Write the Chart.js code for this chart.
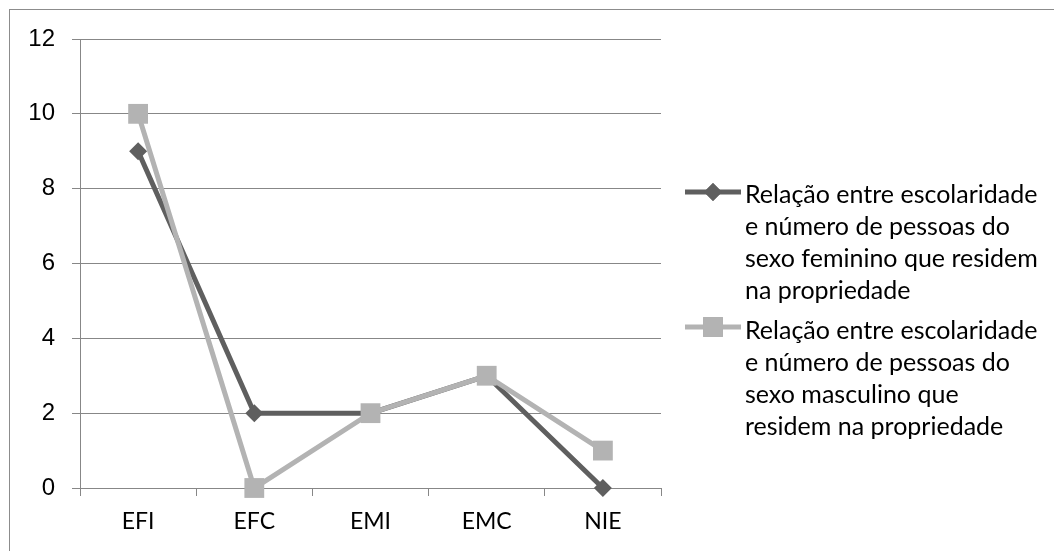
<!DOCTYPE html>
<html>
<head>
<meta charset="utf-8">
<script src="https://cdn.jsdelivr.net/npm/chart.js@4.4.1/dist/chart.umd.min.js"></script>
<style>
  html, body { margin: 0; padding: 0; background: #ffffff; }
  #wrap { width: 1054px; height: 551px; position: relative; }
</style>
</head>
<body>
<div id="wrap"><canvas id="chart" width="1054" height="551"></canvas></div>
<script>
// Escolaridade categories
const categories = ['EFI', 'EFC', 'EMI', 'EMC', 'NIE'];
// Number of residents per schooling level
const femaleValues = [9, 2, 2, 3, 0];
const maleValues = [10, 0, 2, 3, 1];
// Value axis ticks
const yTicks = [0, 2, 4, 6, 8, 10, 12];

const femaleLabel = ['Relação entre escolaridade', 'e número de pessoas do', 'sexo feminino que residem', 'na propriedade'];
const maleLabel = ['Relação entre escolaridade', 'e número de pessoas do', 'sexo masculino que', 'residem na propriedade'];

const DARK = '#5f5f5f';
const LIGHT = '#b3b3b3';
const AXIS = '#878787';

// Frame and multi-line legend drawn on the canvas
const sideLegend = {
  id: 'sideLegend',
  afterDraw(chart) {
    const ctx = chart.ctx;
    ctx.save();
    ctx.strokeStyle = '#8c8c8c';
    ctx.lineWidth = 1;
    ctx.strokeRect(9.5, 9.5, 1200, 800);

    const items = [
      { lines: femaleLabel, color: DARK, style: 'rectRot', radius: 9, y: 192, textY: 195 },
      { lines: maleLabel, color: LIGHT, style: 'rect', radius: 14, y: 327, textY: 331 }
    ];
    ctx.font = '25px Lato';
    ctx.textBaseline = 'middle';
    ctx.textAlign = 'left';
    items.forEach(it => {
      ctx.strokeStyle = it.color;
      ctx.lineWidth = 5;
      ctx.lineCap = 'butt';
      ctx.beginPath();
      ctx.moveTo(685, it.y);
      ctx.lineTo(741, it.y);
      ctx.stroke();
      ctx.fillStyle = it.color;
      Chart.helpers.drawPoint(ctx, { pointStyle: it.style, radius: it.radius, borderWidth: 0, rotation: 0 }, 713, it.y);
      ctx.fill();
      ctx.fillStyle = '#000000';
      it.lines.forEach((t, i) => {
        ctx.fillText(t, 745, it.textY + i * 32);
      });
    });
    ctx.restore();
  }
};

new Chart(document.getElementById('chart'), {
  type: 'line',
  data: {
    labels: categories,
    datasets: [
      {
        label: femaleLabel.join(' '),
        data: femaleValues,
        borderColor: DARK,
        backgroundColor: DARK,
        borderWidth: 5,
        pointStyle: 'rectRot',
        pointRadius: 9,
        pointBorderWidth: 0,
        pointBackgroundColor: DARK,
        tension: 0,
        clip: false,
        order: 1
      },
      {
        label: maleLabel.join(' '),
        data: maleValues,
        borderColor: LIGHT,
        backgroundColor: LIGHT,
        borderWidth: 5,
        pointStyle: 'rect',
        pointRadius: 14,
        pointBorderWidth: 0,
        pointBackgroundColor: LIGHT,
        tension: 0,
        clip: false,
        order: 0
      }
    ]
  },
  options: {
    responsive: false,
    animation: false,
    events: [],
    layout: { padding: { left: 0, top: 39, right: 393, bottom: 13 } },
    plugins: {
      legend: { display: false },
      tooltip: { enabled: false }
    },
    scales: {
      x: {
        type: 'category',
        offset: true,
        afterFit(scale) { scale.height = 50; },
        grid: {
          display: true,
          offset: true,
          drawOnChartArea: false,
          drawTicks: true,
          tickLength: 8,
          color: AXIS,
          lineWidth: 1
        },
        border: { display: true, color: AXIS, width: 1 },
        ticks: {
          color: '#000000',
          font: { family: 'Lato', size: 23 },
          padding: 12,
          maxRotation: 0,
          autoSkip: false
        }
      },
      y: {
        min: 0,
        max: 12,
        afterFit(scale) { scale.width = 80; },
        afterBuildTicks(scale) { scale.ticks = yTicks.map(v => ({ value: v })); },
        grid: {
          color: AXIS,
          lineWidth: 1,
          tickLength: 8,
          drawTicks: true
        },
        border: { display: true, color: AXIS, width: 1 },
        ticks: {
          color: '#000000',
          font: { family: "'Liberation Sans', Arial", size: 24 },
          padding: 17
        }
      }
    }
  },
  plugins: [sideLegend]
});
</script>
</body>
</html>
